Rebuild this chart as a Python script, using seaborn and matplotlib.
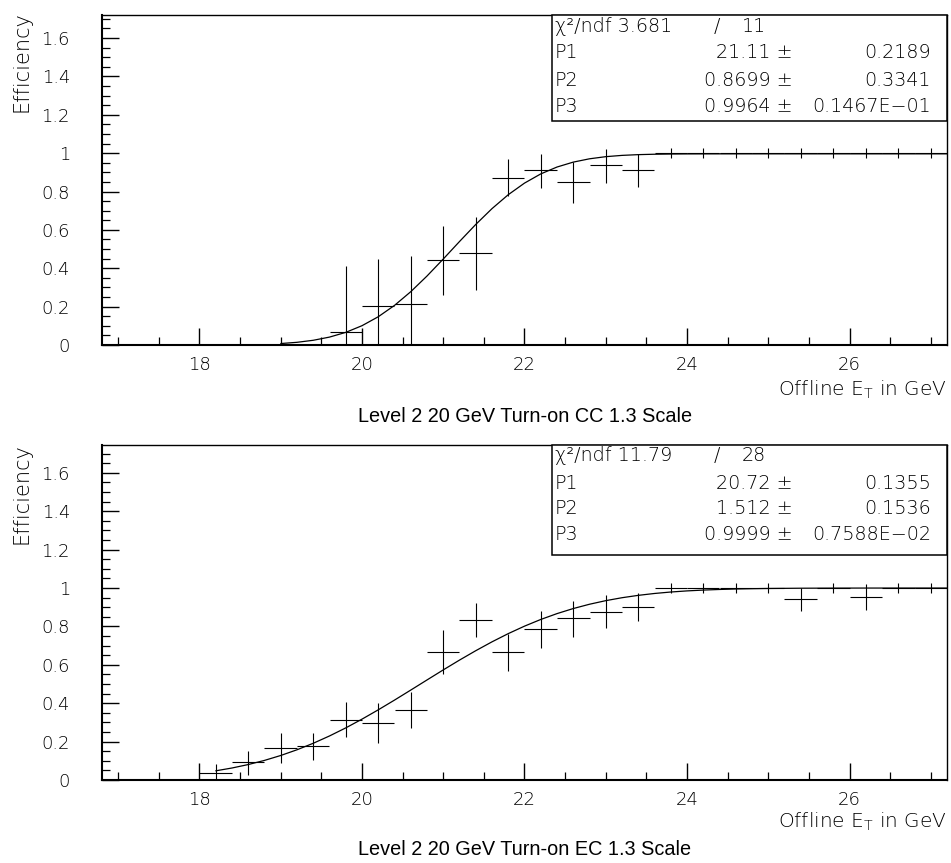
import matplotlib
matplotlib.use("Agg")
import matplotlib.pyplot as plt
from matplotlib.ticker import MultipleLocator, FormatStrFormatter
from matplotlib.patches import Rectangle
import seaborn as sns
import pandas as pd

# ---------------- data ----------------
# Top panel: CC
x_cc = [17.0, 17.4, 17.8, 18.2, 18.6, 19.0, 19.4, 19.8, 20.2, 20.6, 21.0, 21.4, 21.8,
        22.2, 22.6, 23.0, 23.4, 23.8, 24.2, 24.6, 25.0, 25.4, 25.8, 26.2, 26.6, 27.0]
eff_cc = [0, 0, 0, 0, 0, 0, 0, 0.066, 0.203, 0.212, 0.443, 0.477, 0.868,
          0.911, 0.847, 0.937, 0.911, 1, 1, 1, 1, 1, 1, 1, 1, 1]
err_lo_cc = [0, 0, 0, 0, 0, 0, 0, 0.066, 0.203, 0.212, 0.183, 0.191, 0.092,
             0.091, 0.106, 0.095, 0.086, 0.025, 0.025, 0.025, 0.025, 0.025, 0.025, 0.025, 0.025, 0.025]
err_hi_cc = [0, 0, 0, 0, 0, 0, 0, 0.344, 0.247, 0.253, 0.177, 0.188, 0.099,
             0.084, 0.108, 0.087, 0.084, 0.025, 0.025, 0.025, 0.025, 0.025, 0.025, 0.025, 0.025, 0.025]
fit_x_cc = [19.0, 19.2, 19.4, 19.6, 19.8, 20.0, 20.2, 20.4, 20.6, 20.8, 21.0, 21.2, 21.4,
            21.6, 21.8, 22.0, 22.2, 22.4, 22.6, 22.8, 23.0, 23.2, 23.4, 23.6, 23.8, 24.0,
            24.4, 25.0, 26.0, 27.2]
fit_y_cc = [0.0076, 0.0140, 0.0246, 0.0412, 0.0658, 0.1006, 0.1472, 0.2064, 0.2778, 0.3595,
            0.4481, 0.5393, 0.6283, 0.7108, 0.7833, 0.8438, 0.8917, 0.9276, 0.9532, 0.9705,
            0.9816, 0.9883, 0.9922, 0.9943, 0.9954, 0.9960, 0.9963, 0.9964, 0.9964, 0.9964]
stats_cc = [("P1", "21.11", "0.2189"), ("P2", "0.8699", "0.3341"), ("P3", "0.9964", "0.1467E\u221201")]
chi_cc = ("3.681", "11")
title_cc = "Level 2 20 GeV Turn-on CC 1.3 Scale"

# Bottom panel: EC
x_ec = [18.2, 18.6, 19.0, 19.4, 19.8, 20.2, 20.6, 21.0, 21.4, 21.8, 22.2, 22.6, 23.0,
        23.4, 23.8, 24.2, 24.6, 25.0, 25.4, 25.8, 26.2, 26.6, 27.0]
eff_ec = [0.035, 0.092, 0.165, 0.177, 0.312, 0.295, 0.365, 0.667, 0.833, 0.667, 0.785, 0.842, 0.873,
          0.903, 1, 1, 1, 1, 0.941, 1, 0.951, 1, 1]
err_lo_ec = [0.035, 0.066, 0.078, 0.073, 0.090, 0.104, 0.093, 0.117, 0.087, 0.099, 0.095, 0.096, 0.083,
             0.073, 0.024, 0.024, 0.024, 0.024, 0.061, 0.024, 0.066, 0.024, 0.024]
err_hi_ec = [0.048, 0.061, 0.078, 0.070, 0.093, 0.105, 0.095, 0.113, 0.087, 0.093, 0.095, 0.090, 0.091,
             0.069, 0.024, 0.024, 0.024, 0.024, 0.059, 0.024, 0.069, 0.024, 0.024]
fit_x_ec = [18.2, 18.4, 18.6, 18.8, 19.0, 19.2, 19.4, 19.6, 19.8, 20.0, 20.2, 20.4, 20.6, 20.8,
            21.0, 21.2, 21.4, 21.6, 21.8, 22.0, 22.2, 22.4, 22.6, 22.8, 23.0, 23.2, 23.4, 23.6,
            23.8, 24.0, 24.2, 24.4, 24.6, 24.8, 25.0, 25.4, 25.8, 26.2, 27.2]
fit_y_ec = [0.0478, 0.0625, 0.0805, 0.1021, 0.1277, 0.1574, 0.1913, 0.2294, 0.2714, 0.3170,
            0.3655, 0.4162, 0.4684, 0.5211, 0.5735, 0.6246, 0.6735, 0.7197, 0.7625, 0.8014,
            0.8362, 0.8667, 0.8931, 0.9155, 0.9342, 0.9495, 0.9618, 0.9716, 0.9792, 0.9850,
            0.9893, 0.9925, 0.9949, 0.9965, 0.9977, 0.9990, 0.9995, 0.9998, 0.9999]
stats_ec = [("P1", "20.72", "0.1355"), ("P2", "1.512", "0.1536"), ("P3", "0.9999", "0.7588E\u221202")]
chi_ec = ("11.79", "28")
title_ec = "Level 2 20 GeV Turn-on EC 1.3 Scale"

bin_half_width = 0.2

# ---------------- style ----------------
sns.set_theme(style="ticks")
plt.rcParams['font.family'] = ['DejaVu Sans']
plt.rcParams['mathtext.fontset'] = 'dejavusans'

W, H = 951, 863
fig = plt.figure(figsize=(W / 100, H / 100), dpi=100)
fig.patch.set_facecolor("white")

FS = 13
BFS = 13.8
TXT = "#000000"


def px(x):
    return x / W


def py(y):
    return 1 - y / H


def panel(ax, xs, ys, lo, hi, fx, fy, stats, chi, ymax, rows, box_bottom):
    ax.set_facecolor("white")
    ax.errorbar(xs, ys, yerr=[lo, hi], xerr=bin_half_width, fmt='none',
                ecolor='black', elinewidth=0.8, capsize=0, zorder=3)
    df = pd.DataFrame({"x": fx, "y": fy})
    sns.lineplot(data=df, x="x", y="y", ax=ax, color="black", lw=0.9,
                 errorbar=None, zorder=4)
    ax.set_xlim(16.8, 27.2)
    ax.set_ylim(0, ymax)
    ax.set_xlabel("")
    ax.set_ylabel("")
    ax.xaxis.set_major_locator(MultipleLocator(2))
    ax.xaxis.set_minor_locator(MultipleLocator(0.5))
    ax.yaxis.set_major_locator(MultipleLocator(0.2))
    ax.yaxis.set_minor_locator(MultipleLocator(0.05))
    ax.yaxis.set_major_formatter(FormatStrFormatter('%g'))
    ax.xaxis.set_major_formatter(FormatStrFormatter('%g'))
    ax.tick_params(axis='both', which='both', direction='in', top=False, right=False,
                   color='black', labelcolor=TXT, labelsize=FS)
    ax.tick_params(axis='both', which='major', length=12, width=1.0)
    ax.tick_params(axis='both', which='minor', length=6, width=0.9)
    ax.tick_params(axis='x', which='major', pad=8)
    ax.tick_params(axis='y', which='major', pad=23)
    for s in ax.spines.values():
        s.set_color('black')
        s.set_linewidth(1.0)
        s.set_visible(True)
    ax.spines['left'].set_linewidth(1.5)
    ax.spines['bottom'].set_linewidth(1.5)
    for lab in ax.get_xticklabels() + ax.get_yticklabels():
        lab.set_fontweight('light')

    # stats box
    bx0 = (552 - 102) / 845
    rect = Rectangle((bx0, box_bottom), 1 - bx0, 1 - box_bottom, transform=ax.transAxes,
                     facecolor='white', edgecolor='black', lw=1.1, zorder=10, clip_on=False)
    ax.add_patch(rect)
    tx0 = (555 - 102) / 845
    kw = dict(transform=ax.transAxes, fontsize=BFS, va='center', color=TXT, zorder=11,
              fontweight='light')
    ax.text(tx0, rows[0], "\u03c7\u00b2/ndf " + chi[0], ha='left', **kw)
    ax.text((717 - 102) / 845, rows[0], "/", ha='center', **kw)
    ax.text((766 - 102) / 845, rows[0], chi[1], ha='right', **kw)
    for (name, val, err), r in zip(stats, rows[1:]):
        ax.text(tx0, r, name, ha='left', **kw)
        ax.text((793 - 102) / 845, r, val + " \u00b1", ha='right', **kw)
        ax.text((931 - 102) / 845, r, err, ha='right', **kw)


# top panel: 102..947 x, 15..345 y
ax1 = fig.add_axes([px(102), py(345), (947 - 102) / W, (345 - 15) / H])
panel(ax1, x_cc, eff_cc, err_lo_cc, err_hi_cc, fit_x_cc, fit_y_cc, stats_cc, chi_cc, 1.72,
      [(345 - 26) / 330, (345 - 53) / 330, (345 - 80) / 330, (345 - 106.5) / 330],
      (345 - 121) / 330)

# bottom panel: 445..780 y
ax2 = fig.add_axes([px(102), py(780), (947 - 102) / W, (780 - 445) / H])
panel(ax2, x_ec, eff_ec, err_lo_ec, err_hi_ec, fit_x_ec, fit_y_ec, stats_ec, chi_ec, 1.745,
      [(780 - 455) / 335, (780 - 483) / 335, (780 - 508) / 335, (780 - 534) / 335],
      (780 - 555) / 335)

# axis labels and titles
for ylab_c, xlab_y, title_y, title in [(62, 390, 416, title_cc), (494, 822, 849, title_ec)]:
    fig.text(px(21), py(ylab_c), "Efficiency", rotation=90, ha='center', va='center',
             fontsize=15, color=TXT, fontweight='light')
    fig.text(px(947), py(xlab_y), r"Offline E$_\mathregular{T}$ in GeV", ha='right', va='center',
             fontsize=14.5, color=TXT, fontweight='light')
    fig.text(px(525), py(title_y), title, ha='center', va='center',
             fontsize=14.3, color='black', family=['Liberation Sans', 'DejaVu Sans'])

fig.savefig("out.png", dpi=100, facecolor='white')
